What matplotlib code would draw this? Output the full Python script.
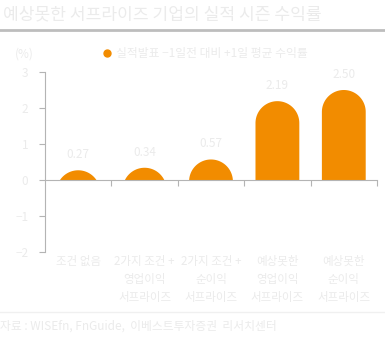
import numpy as np
import matplotlib
matplotlib.use('Agg')
import matplotlib.pyplot as plt
from matplotlib.patches import Polygon
from matplotlib.lines import Line2D

plt.rcParams['font.family'] = ['Noto Sans CJK KR', 'DejaVu Sans']

title = '예상못한 서프라이즈 기업의 실적 시즌 수익률'
source = '자료 : WISEfn, FnGuide,  이베스트투자증권  리서치센터'
series_name = '실적발표 \u22121일전 대비 +1일 평균 수익률'
categories = ['조건 없음',
              '2가지 조건 +\n영업이익\n서프라이즈',
              '2가지 조건 +\n순이익\n서프라이즈',
              '예상못한\n영업이익\n서프라이즈',
              '예상못한\n순이익\n서프라이즈']
values = [0.27, 0.34, 0.57, 2.19, 2.50]
yticks = [-2, -1, 0, 1, 2, 3]

orange = '#f28c00'
txt = '#ebebeb'
axis_c = '#b4b4b4'

W, H = 385, 350
fig = plt.figure(figsize=(W / 100, H / 100), dpi=100)
# 축 위치 (픽셀 기준)
left, right, top, bottom = 45, 377, 72, 252
ax = fig.add_axes([left / W, 1 - bottom / H, (right - left) / W, (bottom - top) / H])
ax.set_xlim(-0.5, len(categories) - 0.5)
ax.set_ylim(-2, 3)

# 데이터 단위당 픽셀
sx = (right - left) / len(categories)
sy = (bottom - top) / 5.0
bar_w = 0.66

# 윗부분이 둥근 막대
for i, v in enumerate(values):
    r = bar_w * sx / 2
    hp = v * sy
    t0 = np.arcsin(max(0.0, (r - hp) / r))
    cy = hp - r
    ang = np.linspace(np.pi - t0, t0, 60)
    pts = [(r * np.cos(np.pi - t0), 0)]
    pts += [(r * np.cos(a), cy + r * np.sin(a)) for a in ang]
    pts += [(r * np.cos(t0), 0)]
    pts = [(i + dx / sx, dy / sy) for dx, dy in pts]
    ax.add_patch(Polygon(pts, closed=True, facecolor=orange, edgecolor='none', zorder=2))
    ax.text(i, v + 9 / sy, f'{v:.2f}', ha='center', va='bottom', fontsize=8.5, color=txt)

# 축 스타일
for s in ['top', 'right']:
    ax.spines[s].set_visible(False)
ax.spines['left'].set_color(axis_c)
ax.spines['bottom'].set_color(axis_c)
ax.spines['bottom'].set_position(('data', 0))
ax.set_yticks(yticks)
ax.set_yticklabels([str(t) if t >= 0 else '\u2212' + str(-t) for t in yticks])
ax.tick_params(axis='y', colors=axis_c, labelcolor=txt, labelsize=8.5, length=4, direction='out', pad=8)
ax.set_xticks(np.arange(0.5, len(categories), 1))
ax.set_xticklabels([])
ax.tick_params(axis='x', colors=axis_c, length=4, direction='out')

for i, c in enumerate(categories):
    ax.text(i, -2.08, c, ha='center', va='top', fontsize=8.3, color=txt, linespacing=1.5)

fig.text(15 / W, 1 - 54 / H, '(%)', ha='left', va='center', fontsize=8.5, color=txt)
ax.legend([Line2D([], [], marker='o', color=orange, linestyle='none', markersize=5)], [series_name],
          loc='center left', bbox_to_anchor=(92 / W, 1 - 54 / H), bbox_transform=fig.transFigure,
          frameon=False, fontsize=8.5, labelcolor=txt, handlelength=0.8, handletextpad=0.35)

fig.text(3 / W, 1 - 14 / H, title, ha='left', va='center', fontsize=12.3, color=txt)
fig.add_artist(Line2D([0, 1], [1 - 30 / H, 1 - 30 / H], color='#bdbdbd', linewidth=2, transform=fig.transFigure))
fig.add_artist(Line2D([0, 1], [1 - 312 / H, 1 - 312 / H], color='#f0f0f0', linewidth=1, transform=fig.transFigure))
fig.text(0, 1 - 326 / H, source, ha='left', va='center', fontsize=8.5, color=txt)

fig.savefig('out.png', dpi=100)
